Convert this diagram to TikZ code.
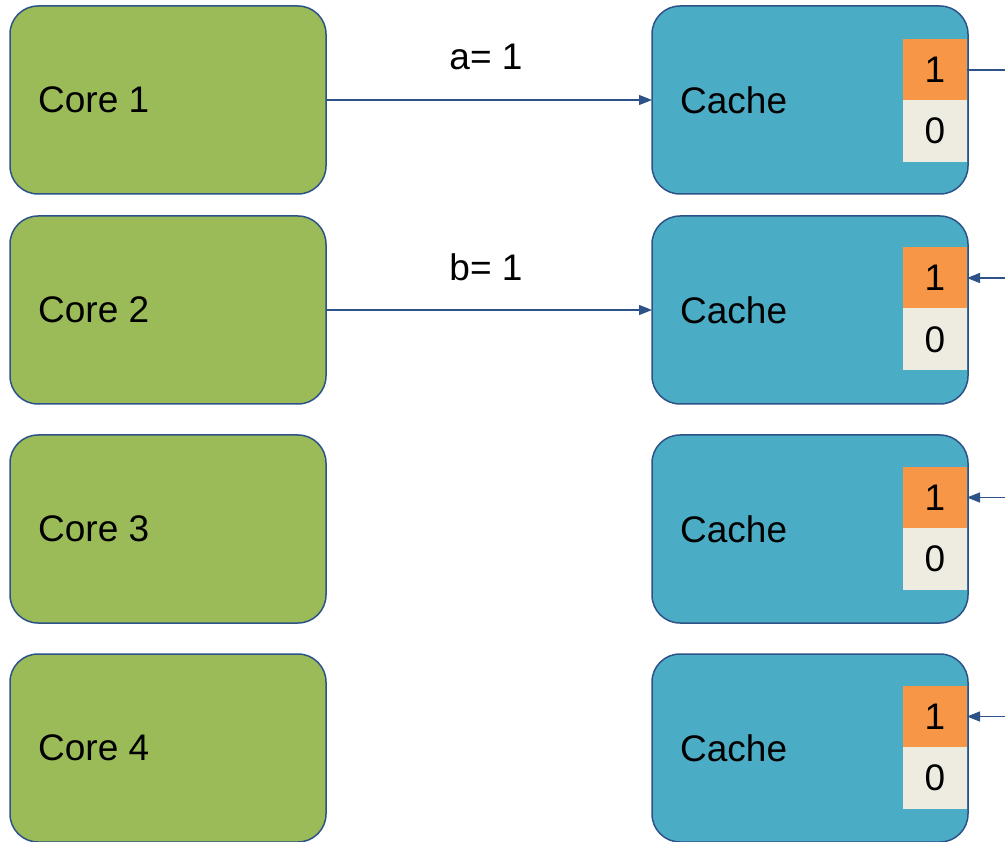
\documentclass[tikz,border=0pt]{standalone}
\usepackage{fontspec}
\setmainfont{Liberation Sans}
\usetikzlibrary{arrows.meta}
\definecolor{coregreen}{HTML}{9BBB59}
\definecolor{cacheblue}{HTML}{4BACC6}
\definecolor{cellorange}{HTML}{F79646}
\definecolor{cellcream}{HTML}{EEECE1}
\definecolor{edgeblue}{HTML}{2C5287}
\tikzset{
  bigtext/.style={font=\fontsize{37}{44}\selectfont},
  corebox/.style={draw=edgeblue, line width=1.5pt, fill=coregreen, rounded corners=28pt,
    minimum width=316pt, minimum height=188pt, inner sep=0pt, outer sep=0pt},
  cachebox/.style={corebox, fill=cacheblue},
  lbl/.style={bigtext, anchor=west, inner sep=0pt},
  orangecell/.style={fill=cellorange, minimum width=64pt, minimum height=61pt, inner sep=0pt, outer sep=0pt, bigtext},
  creamcell/.style={fill=cellcream, minimum width=64pt, minimum height=62pt, inner sep=0pt, outer sep=0pt, bigtext},
  conn/.style={draw=edgeblue, line width=1.3pt},
  arr/.style={conn, -{Triangle[length=13pt,width=10pt]}},
}
\begin{document}
\begin{tikzpicture}[x=1pt,y=-1pt]
\useasboundingbox (0,0) rectangle (1005,842);
% cores
\node[corebox] (c1) at (168,100) {};
\node[corebox] (c2) at (168,310) {};
\node[corebox] (c3) at (168,529) {};
\node[corebox] (c4) at (168,748) {};
\node[lbl] (t1) at (38,100) {Core 1};
\node[lbl] (t2) at (38,310) {Core 2};
\node[lbl] (t3) at (38,529) {Core 3};
\node[lbl] (t4) at (38,748) {Core 4};
% caches
\node[cachebox] (k1) at (810,100) {};
\node[cachebox] (k2) at (810,310) {};
\node[cachebox] (k3) at (810,529) {};
\node[cachebox] (k4) at (810,748) {};
\node[lbl] (kt1) at (680,100) {Cache};
\node[lbl] (kt2) at (680,310) {Cache};
\node[lbl] (kt3) at (680,529) {Cache};
\node[lbl] (kt4) at (680,748) {Cache};
% cells
\node[orangecell] (o1) at (935,70) {1};
\node[creamcell] (z1) at (935,131) {0};
\node[orangecell] (o2) at (935,278) {1};
\node[creamcell] (z2) at (935,339.5) {0};
\node[orangecell] (o3) at (935,497.5) {1};
\node[creamcell] (z3) at (935,559) {0};
\node[orangecell] (o4) at (935,716.5) {1};
\node[creamcell] (z4) at (935,778) {0};
% connectors core -> cache
\draw[arr] (c1.east) -- (k1.west);
\draw[arr] (c2.east) -- (k2.west);
\node[bigtext, inner sep=0pt] (la) at (486,57) {a= 1};
\node[bigtext, inner sep=0pt] (lb) at (486,267) {b= 1};
% right side
\coordinate (e1) at (1005,70);
\coordinate (e2) at (1005,278);
\coordinate (e3) at (1005,497.5);
\coordinate (e4) at (1005,716.5);
\draw[conn] (o1.east) -- (e1);
\draw[arr] (e2) -- (o2.east);
\draw[arr] (e3) -- (o3.east);
\draw[arr] (e4) -- (o4.east);
\end{tikzpicture}
\end{document}
